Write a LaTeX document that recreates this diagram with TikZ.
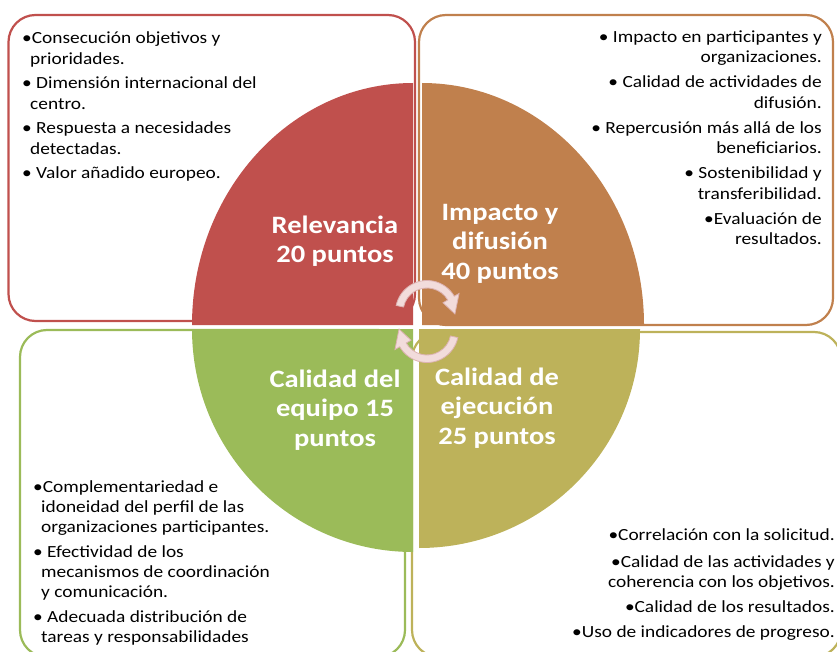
\documentclass[tikz,border=0pt]{standalone}
\usepackage{fontspec}
\setmainfont{Carlito}[FakeStretch=1.14]
\usetikzlibrary{calc}
\definecolor{cred}{HTML}{C0504D}
\definecolor{corange}{HTML}{C0804D}
\definecolor{cgreen}{HTML}{9BBB59}
\definecolor{colive}{HTML}{BDB25A}
\definecolor{pinkfill}{HTML}{F2DCDB}
\definecolor{pinkedge}{HTML}{DDB3B2}
\newcommand{\fstrut}{\rule{0pt}{14pt}}
\newcommand{\tstrut}{\rule{0pt}{20pt}}
\begin{document}
\begin{tikzpicture}[x=1pt,y=-1pt,
  box/.style={line width=2.2pt, rounded corners=27pt},
  bul/.style={inner sep=0pt, text=black, font=\fontsize{17}{21}\selectfont},
  ttl/.style={inner sep=0pt, align=center, text=white, font=\bfseries\fontsize{25}{29.5}\selectfont},
  cyc/.style={fill=pinkfill, draw=pinkedge, line width=0.8pt}]
\useasboundingbox (0,0) rectangle (837,652);
\begin{scope}
\clip (0,0) rectangle (837,652);
% outline boxes
\draw[box, draw=cred] (8.5,15) rectangle (415,321);
\draw[box, draw=corange] (419,15) rectangle (833,325);
\draw[box, draw=cgreen] (20,330) rectangle (405,657);
\draw[box, draw=colive] (412,332) rectangle (841,657);
% quarters
\fill[cred] (413,325) -- (192,325) arc[start angle=180, end angle=270, x radius=221, y radius=242] -- cycle;
\fill[corange] (422,325) -- (422,83) arc[start angle=270, end angle=360, x radius=222, y radius=242] -- cycle;
\fill[cgreen] (413,329) -- (192,329) arc[start angle=180, end angle=90, x radius=221, y radius=223] -- cycle;
\fill[colive] (419,329) -- (640,329) arc[start angle=0, end angle=90, x radius=221, y radius=219] -- cycle;
% cycle arrows
\coordinate (c1) at (427,312);
\coordinate (c2) at (427,331);
\path[cyc] ($(c1)+(-168:31.5)$) arc[start angle=-168, end angle=-30, radius=31.5]
  -- ($(c1)+(-30:37)$) -- ($(c1)+(4:28)$) -- ($(c1)+(-30:18.5)$) -- ($(c1)+(-30:24)$)
  arc[start angle=-30, end angle=-168, radius=24] -- cycle;
\path[cyc] ($(c2)+(12:31.5)$) arc[start angle=12, end angle=150, radius=31.5]
  -- ($(c2)+(150:37)$) -- ($(c2)+(184:28)$) -- ($(c2)+(150:18.5)$) -- ($(c2)+(150:24)$)
  arc[start angle=150, end angle=12, radius=24] -- cycle;
\end{scope}
% titles
\node[ttl, anchor=north] (t1) at (335,213) {\tstrut Relevancia\\20 puntos};
\node[ttl, anchor=north] (t2) at (500,200) {\tstrut Impacto y\\difusión\\40 puntos};
\node[ttl, anchor=north] (t3) at (335,367) {\tstrut Calidad del\\equipo 15\\puntos};
\node[ttl, anchor=north] (t4) at (497,365) {\tstrut Calidad de\\ejecución\\25 puntos};
% bullet texts
\node[bul, align=left, anchor=north west] (b1) at (22,29) {\fstrut•Consecución objetivos y\\
\hspace*{8pt}prioridades.\\[3pt]
• Dimensión internacional del\\
\hspace*{8pt}centro.\\[3pt]
• Respuesta a necesidades\\
\hspace*{8pt}detectadas.\\[3pt]
• Valor añadido europeo.};
\node[bul, align=right, anchor=north east, font=\fontsize{17}{20.5}\selectfont] (b2) at (822,28) {\fstrut• Impacto en participantes y\\
organizaciones.\\[4.5pt]
• Calidad de actividades de\\
difusión.\\[4.5pt]
• Repercusión más allá de los\\
beneficiarios.\\[4.5pt]
• Sostenibilidad y\\
transferibilidad.\\[4.5pt]
•Evaluación de\\
resultados.};
\node[bul, align=left, anchor=north west, font=\fontsize{17}{20}\selectfont] (b3) at (33,478) {\fstrut•Complementariedad e\\
\hspace*{8pt}idoneidad del perfil de las\\
\hspace*{8pt}organizaciones participantes.\\[5pt]
• Efectividad de los\\
\hspace*{8pt}mecanismos de coordinación\\
\hspace*{8pt}y comunicación.\\[5pt]
• Adecuada distribución de\\
\hspace*{8pt}tareas y responsabilidades};
\node[bul, align=right, anchor=north east, font=\fontsize{17}{20}\selectfont] (b4) at (835,526) {\fstrut•Correlación con la solicitud.\\[7pt]
•Calidad de las actividades y\\
coherencia con los objetivos.\\[5pt]
•Calidad de los resultados.\\[5pt]
•Uso de indicadores de progreso.};
\end{tikzpicture}
\end{document}
